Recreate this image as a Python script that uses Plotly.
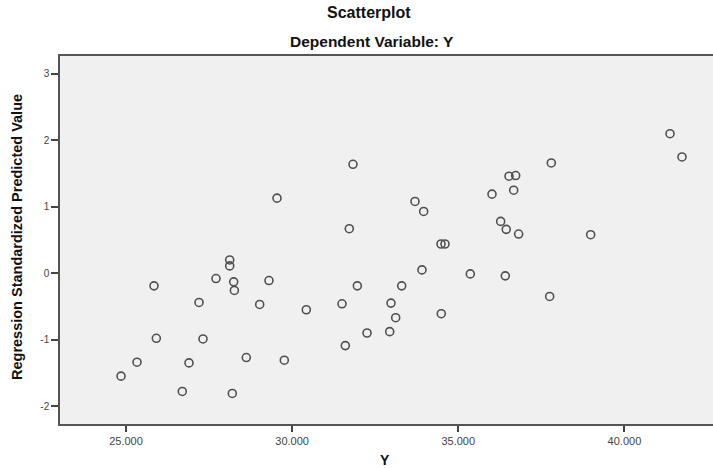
import plotly.graph_objects as go

# Observed Y values (x axis) and regression standardized predicted values (y axis)
y_observed = [24850, 25331, 25843, 25913, 26694, 26896, 27197, 27317, 27708, 28121,
              28121, 28241, 28261, 28199, 28620, 29023, 29303, 29764, 30426, 31500,
              31600, 31962, 32254, 32936, 32975, 33116, 33297, 33907, 34480, 34600,
              34488, 35361, 36415, 37750, 33697, 33958, 36014, 36526, 36727, 36667,
              37799, 36275, 36443, 36816, 38984, 41371, 41732, 31831, 29544, 31720]
std_predicted = [-1.55, -1.34, -0.19, -0.98, -1.78, -1.35, -0.44, -0.99, -0.08, 0.20,
                 0.11, -0.13, -0.26, -1.81, -1.27, -0.47, -0.11, -1.31, -0.55, -0.46,
                 -1.09, -0.19, -0.90, -0.88, -0.45, -0.67, -0.19, 0.05, 0.44, 0.44,
                 -0.61, -0.01, -0.04, -0.35, 1.08, 0.93, 1.19, 1.46, 1.47, 1.25,
                 1.66, 0.78, 0.66, 0.59, 0.58, 2.10, 1.75, 1.64, 1.13, 0.67]

x_tick_vals = [25000, 30000, 35000, 40000]
x_tick_text = ["25.000", "30.000", "35.000", "40.000"]
y_tick_vals = [3, 2, 1, 0, -1, -2]
y_tick_text = ["3", "2", "1", "0", "-1", "-2"]

FONT = "Liberation Sans, Arial, sans-serif"
ML, MR, MT, MB = 60, 0, 56, 44
W, H = 713, 468
plot_w = W - ML - MR
plot_h = H - MT - MB

fig = go.Figure()
fig.add_trace(go.Scatter(
    x=y_observed, y=std_predicted, mode="markers",
    marker=dict(symbol="circle-open", size=8, color="#505050",
                line=dict(width=1.6, color="#505050")),
    showlegend=False,
))

fig.update_layout(
    width=W, height=H,
    margin=dict(l=ML, r=MR, t=MT, b=MB, autoexpand=False),
    paper_bgcolor="white",
    plot_bgcolor="#f0f0f0",
    font=dict(family=FONT, color="#222"),
    xaxis=dict(
        range=[23014, 42665], tickvals=x_tick_vals, ticktext=x_tick_text,
        showgrid=False, zeroline=False, showline=True, linecolor="#555", linewidth=1.5,
        mirror=True, ticks="outside", ticklen=6, tickwidth=1.5, tickcolor="#444",
        tickfont=dict(size=11, color="#444", family=FONT), automargin=False,
    ),
    yaxis=dict(
        range=[-2.27, 3.27], tickvals=y_tick_vals, ticktext=y_tick_text,
        showgrid=False, zeroline=False, showline=True, linecolor="#555", linewidth=1.5,
        ticks="outside", ticklen=7, tickwidth=1.5, tickcolor="#444",
        tickfont=dict(size=10, color="#444", family=FONT), automargin=False,
    ),
)

def px_x(p):
    return (p - ML) / plot_w

def px_y(p):
    return (H - MB - p) / plot_h

fig.add_annotation(text="<b>Scatterplot</b>", xref="paper", yref="paper",
                   x=px_x(369), y=px_y(13), showarrow=False,
                   xanchor="center", yanchor="middle",
                   font=dict(size=16, color="#111", family=FONT))
fig.add_annotation(text="<b>Dependent Variable: Y</b>", xref="paper", yref="paper",
                   x=px_x(372), y=px_y(42), showarrow=False,
                   xanchor="center", yanchor="middle",
                   font=dict(size=15.5, color="#111", family=FONT))
fig.add_annotation(text="<b>Y</b>", xref="paper", yref="paper",
                   x=px_x(385), y=px_y(460), showarrow=False,
                   xanchor="center", yanchor="middle",
                   font=dict(size=14, color="#111", family=FONT))
fig.add_annotation(text="<b>Regression Standardized Predicted Value</b>", xref="paper", yref="paper",
                   x=px_x(17), y=px_y(237), showarrow=False, textangle=-90,
                   xanchor="center", yanchor="middle",
                   font=dict(size=14.5, color="#111", family=FONT))

fig.write_html("out.html",
               config={"displayModeBar": False},
               post_script="document.body.style.margin='0';document.body.style.overflow='hidden';")
